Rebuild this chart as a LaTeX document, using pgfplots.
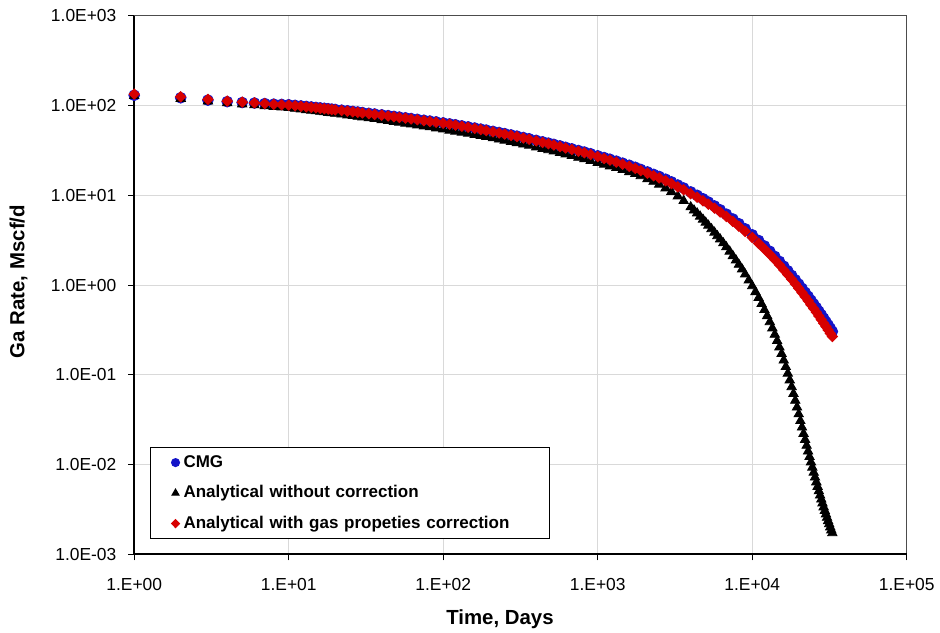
\documentclass[border=0pt]{standalone}
\usepackage{fontspec}
\setmainfont{Liberation Sans}
\usepackage{pgfplots}
\pgfplotsset{compat=1.18}
\definecolor{cmgblue}{RGB}{20,20,200}
\definecolor{anred}{RGB}{215,0,0}
\definecolor{gridgray}{RGB}{217,217,217}
\begin{document}
\begin{tikzpicture}
\useasboundingbox (-67.1pt,-38.8pt) rectangle (402.9pt,277.2pt);
\begin{axis}[
  at={(0pt,0pt)}, anchor=south west,
  scale only axis, width=386.25pt, height=269.35pt,
  xmode=log, ymode=log,
  xmin=1, xmax=100000, ymin=0.001, ymax=1000,
  xtick={1,10,100,1000,10000,100000},
  xticklabels={1.E+00,1.E+01,1.E+02,1.E+03,1.E+04,1.E+05},
  ytick={0.001,0.01,0.1,1,10,100,1000},
  yticklabels={1.0E-03,1.0E-02,1.0E-01,1.0E+00,1.0E+01,1.0E+02,1.0E+03},
  xminorticks=false, yminorticks=false,
  xtick pos=bottom, ytick pos=left,
  tick align=outside, major tick length=3pt,
  tick style={black, line width=0.5pt},
  grid=major, major grid style={gridgray, line width=0.5pt},
  axis line style={black!70, line width=0.5pt},
  /pgf/number format/assume math mode=true,
  ticklabel style={font=\fontsize{8.7}{10}\selectfont},
  xticklabel style={inner sep=0pt, anchor=north, yshift=-8.8pt},
  yticklabel style={inner sep=0pt, anchor=east, xshift=-5.75pt},
  xlabel={Time, Days}, ylabel={Ga Rate, Mscf/d},
  xlabel style={at={(axis description cs:0.4735,-0.1199)}, anchor=center, font=\bfseries\fontsize{10.2}{12}\selectfont},
  ylabel style={at={(axis description cs:-0.1498,0.5065)}, anchor=center, font=\bfseries\fontsize{10.2}{12}\selectfont},
  clip=false,
  legend style={
    at={(rel axis cs:0.0205,0.028)}, anchor=south west,
    draw=black, line width=0.5pt, fill=white,
    inner xsep=0pt, inner ysep=0pt, row sep=0pt, column sep=0pt,
    font=\bfseries\fontsize{8.5}{10}\selectfont,
    nodes={inner xsep=2pt, inner ysep=0pt, minimum height=15.25pt},
    /tikz/column 2/.style={text width=181pt},
  },
  legend cell align=left,
  legend image code/.code={\path[draw=none,fill=none] (-12.5pt,0pt) -- (0pt,0pt); \draw[#1,/tikz/mark size=2pt] plot coordinates {(0pt,0pt)};},
]
\draw[black, line width=1pt] (rel axis cs:0,1) -- (rel axis cs:0,0) -- (rel axis cs:1,0);

\addplot[only marks, mark=*, mark size=2.7pt, color=cmgblue] table {
x y
1 130
2 121.9
3 114.7
4 110.3
5 107.9
6 106.5
7 105.0
8 103.5
9 102.8
10 101.9
11 100.3
12 98.9
13 97.6
14 96.3
15 95.1
16 94.0
17 93.0
18 92.0
19 91.1
20 90.3
22 88.7
24 87.3
26 85.9
28 84.6
30 83.4
33 81.8
36 80.4
40 78.7
44 77.1
48 75.6
52 74.3
57 72.9
62 71.5
68 70.1
75 68.5
82 67.1
90 65.7
100 64.0
110 62.4
120 61.0
132 59.3
145 57.8
160 56.1
175 54.6
190 53.2
210 51.5
230 50.0
250 48.6
275 47.0
300 45.6
330 44.0
360 42.6
400 40.9
440 39.4
480 38.1
520 36.9
570 35.5
620 34.2
680 32.9
750 31.5
820 30.3
900 29.0
1000 27.5
1100 26.3
1200 25.2
1320 24.0
1450 22.8
1600 21.6
1750 20.5
1900 19.4
2100 18.2
2300 17.1
2500 16.2
2750 15.1
3000 14.1
3300 13.0
3600 12.05
4000 10.9
4400 9.99
4800 9.15
5200 8.41
5700 7.60
6200 6.89
6800 6.16
7500 5.44
8200 4.82
9000 4.23
10000 3.63
11000 3.135
12000 2.725
13000 2.378
14000 2.085
15000 1.836
16000 1.622
17000 1.439
18000 1.280
19000 1.143
20000 1.024
21000 0.919
22000 0.829
23000 0.749
24000 0.677
25000 0.615
26000 0.560
27000 0.510
28000 0.466
29000 0.426
30000 0.390
31000 0.359
32000 0.330
33000 0.304
};
\addlegendentry{CMG}

\addplot[only marks, mark=triangle*, mark size=2.7pt, color=black] table {
x y
1 128
2 119.1
3 111.3
4 106.3
5 103.2
6 101.0
7 98.9
8 96.8
9 95.6
10 94.2
11 92.4
12 90.8
13 89.2
14 87.9
15 86.6
16 85.4
17 84.3
18 83.2
19 82.2
20 81.3
22 79.6
24 78.0
26 76.6
28 75.3
30 74.0
33 72.4
36 70.9
40 69.1
44 67.4
48 66.0
52 64.6
57 63.1
62 61.8
68 60.3
75 58.7
82 57.4
90 55.9
100 54.3
110 52.6
120 51.4
132 50.0
145 48.7
160 47.2
175 45.9
190 44.8
210 43.3
230 42.0
250 40.8
275 39.5
300 38.3
330 36.9
360 35.8
400 34.3
440 33.0
480 31.9
520 30.9
570 29.7
620 28.6
680 27.5
750 26.3
820 25.3
900 24.2
1000 23.0
1100 22.0
1200 21.1
1320 20.2
1450 19.2
1600 18.2
1750 17.3
1900 16.4
2100 15.2
2300 14.2
2500 13.2
2750 12.0
3000 10.96
3300 9.77
3600 8.68
4000 7.38
4200 6.80
4400 6.31
4600 5.81
4800 5.37
5000 4.97
5200 4.61
5450 4.21
5700 3.85
5950 3.52
6200 3.24
6500 2.93
6800 2.65
7150 2.37
7500 2.11
7850 1.89
8200 1.69
8600 1.50
9000 1.32
9500 1.13
10000 0.975
10500 0.838
11000 0.720
11500 0.617
12000 0.529
12500 0.453
13000 0.388
13500 0.331
14000 0.281
14500 0.239
15000 0.203
15500 0.1717
16000 0.1452
16500 0.1227
17000 0.1035
17500 0.0872
18000 0.0733
18500 0.0616
19000 0.0517
19500 0.0435
20000 0.0365
20500 0.0307
21000 0.0260
21500 0.0221
22000 0.01895
22500 0.01628
23000 0.01407
23500 0.01221
24000 0.01064
24500 0.00930
25000 0.00817
25500 0.00721
26000 0.00638
26500 0.00568
27000 0.00507
27500 0.00455
28000 0.00410
28500 0.00371
29000 0.00336
29500 0.00306
30000 0.00280
30500 0.00257
31000 0.00236
31500 0.00218
32000 0.00201
32500 0.00186
33000 0.00173
};
\addlegendentry{Analytical without correction}

\addplot[only marks, mark=diamond*, mark size=2.6pt, color=anred, mark options={xscale=1.33}] table {
x y
1 134
2 125
3 117
4 112
5 109
6 107
7 105
8 103
9 102
10 100.9
11 99.35
12 97.9
13 96.6
14 95.3
15 94.2
16 93.1
17 92.1
18 91.1
19 90.2
20 89.4
22 87.8
24 86.4
26 85.0
28 83.8
30 82.6
33 81.0
36 79.6
40 77.9
44 76.3
48 74.9
52 73.6
57 72.2
62 70.8
68 69.4
75 67.8
82 66.4
90 65.0
100 63.4
110 61.8
120 60.4
132 58.7
145 57.2
160 55.5
175 54.0
190 52.6
210 50.9
230 49.4
250 48.0
275 46.4
300 45.0
330 43.4
360 42.0
400 40.3
440 38.8
480 37.5
520 36.3
570 34.9
620 33.6
680 32.3
750 30.9
820 29.7
900 28.4
1000 27.0
1100 25.7
1200 24.6
1320 23.4
1450 22.2
1600 21.0
1750 19.9
1900 18.8
2100 17.6
2300 16.5
2500 15.6
2750 14.5
3000 13.5
3300 12.4
3600 11.5
4000 10.4
4400 9.50
4800 8.68
5200 7.96
5700 7.18
6200 6.50
6800 5.80
7500 5.11
8200 4.52
9000 3.96
10000 3.39
11000 2.914
12000 2.521
13000 2.192
14000 1.913
15000 1.678
16000 1.477
17000 1.307
18000 1.159
19000 1.032
20000 0.922
21000 0.826
22000 0.743
23000 0.669
24000 0.604
25000 0.547
26000 0.497
27000 0.452
28000 0.412
29000 0.376
30000 0.344
31000 0.316
32000 0.290
33000 0.267
};
\addlegendentry{Analytical with gas propeties correction}
\end{axis}
\end{tikzpicture}
\end{document}
